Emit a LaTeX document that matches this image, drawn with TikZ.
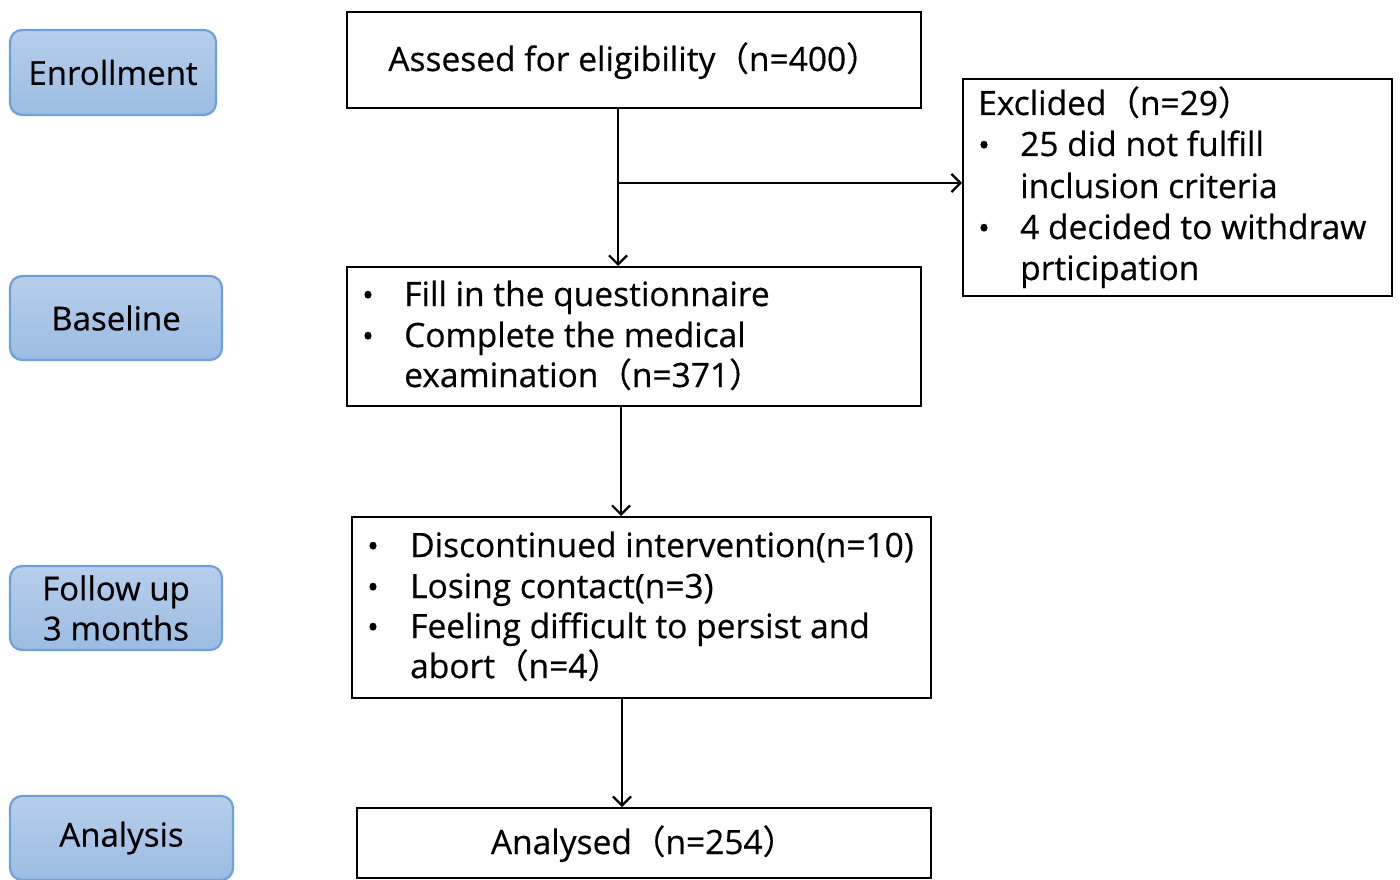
\documentclass[tikz,border=0pt]{standalone}
\usepackage{fontspec}
\setmainfont{Open Sans}[FakeBold=0.5]
\newfontfamily\cjk{Noto Sans CJK SC}[FakeBold=0.5]
\newcommand{\lpar}{{\cjk （}}
\newcommand{\rpar}{{\cjk ）}}
\usetikzlibrary{arrows.meta}
\definecolor{sidetop}{HTML}{B7CEEB}
\definecolor{sidebot}{HTML}{9BBCE3}
\definecolor{sideedge}{HTML}{6FA0D8}
\tikzset{
  sidebox/.style={rounded corners=12pt, draw=sideedge, line width=2.2pt, top color=sidetop, bottom color=sidebot, align=center, inner sep=0pt, font=\fontsize{33}{40}\selectfont},
  mainbox/.style={draw=black, line width=2pt, inner sep=0pt},
  txt/.style={anchor=base west, inner sep=0pt, font=\fontsize{33.5}{40}\selectfont},
  ctxt/.style={anchor=base, inner sep=0pt, font=\fontsize{33.5}{40}\selectfont},
  bul/.style={anchor=base, inner sep=0pt, font=\fontsize{31}{40}\selectfont},
  conn/.style={line width=2.2pt, -{Straight Barb[length=9pt,width=18pt,line width=2.2pt]}}
}
\begin{document}
\begin{tikzpicture}[x=1pt,y=-1pt]
\useasboundingbox (0,0) rectangle (1400,880);
% side boxes
\node[sidebox, minimum width=206pt, minimum height=85pt] (enr) at (113,72.5) {Enrollment};
\node[sidebox, minimum width=212pt, minimum height=84pt] (bas) at (116,318) {Baseline};
\node[sidebox, minimum width=212pt, minimum height=84pt] (fol) at (116,608) {Follow up\\3 months};
\node[sidebox, minimum width=223pt, minimum height=84pt] (ana) at (121.5,838) {Analysis};
% main boxes
\node[mainbox, minimum width=574pt, minimum height=96pt] (assess) at (634,60) {};
\node[mainbox, minimum width=429pt, minimum height=217pt] (excl) at (1177.5,187.5) {};
\node[mainbox, minimum width=574pt, minimum height=139pt] (base) at (634,336.5) {};
\node[mainbox, minimum width=579pt, minimum height=181pt] (follow) at (641.5,607.5) {};
\node[mainbox, minimum width=574pt, minimum height=70pt] (final) at (644,843) {};
% texts
\node[ctxt] (t1) at (634,71) {Assesed for eligibility\lpar n=400\rpar};
\node[txt] (e1) at (978,115) {Exclided\lpar n=29\rpar};
\node[bul] (e2b) at (984,156) {•};
\node[txt] (e2) at (1020,156) {25 did not fulfill};
\node[txt] (e3) at (1020,198) {inclusion criteria};
\node[bul] (e4b) at (984,239) {•};
\node[txt] (e4) at (1020,239) {4 decided to withdraw};
\node[txt] (e5) at (1020,280) {prticipation};
\node[bul] (b1b) at (368,306) {•};
\node[txt] (b1) at (404,306) {Fill in the questionnaire};
\node[bul] (b2b) at (368,347) {•};
\node[txt] (b2) at (404,347) {Complete the medical};
\node[txt] (b3) at (404,387) {examination\lpar n=371\rpar};
\node[bul] (f1b) at (373,557) {•};
\node[txt] (f1) at (410,557) {Discontinued intervention(n=10)};
\node[bul] (f2b) at (373,598) {•};
\node[txt] (f2) at (410,598) {Losing contact(n=3)};
\node[bul] (f3b) at (373,638) {•};
\node[txt] (f3) at (410,638) {Feeling difficult to persist and};
\node[txt] (f4) at (410,678) {abort\lpar n=4\rpar};
\node[ctxt] (a1) at (643.5,854) {Analysed\lpar n=254\rpar};
% connectors
\coordinate (top1) at (618,108);
\coordinate (br) at (618,183);
\coordinate (bot1) at (618,266);
\draw[line width=2.2pt] (top1) -- (br);
\draw[conn] (br) -- (bot1);
\draw[conn] (br) -- (excl.west |- br);
\draw[conn] (base.south -| 621,0) -- (follow.north -| 621,0);
\draw[conn] (follow.south -| 622,0) -- (final.north -| 622,0);
\end{tikzpicture}
\end{document}
